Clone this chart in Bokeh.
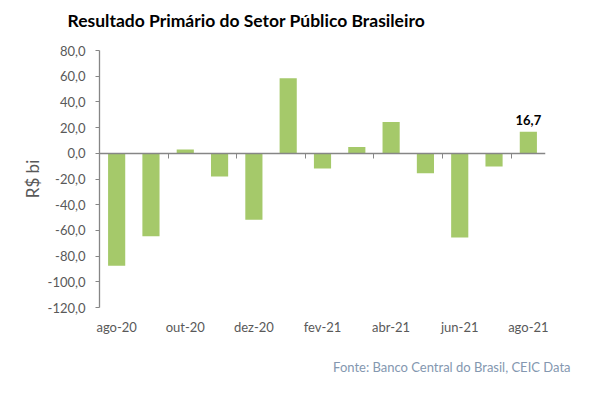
from bokeh.plotting import figure
from bokeh.layouts import column
from bokeh.models import (ColumnDataSource, Range1d, FixedTicker, LinearAxis, Label, Title)
from bokeh.embed import file_html
from bokeh.resources import INLINE

months = ["ago-20", "set-20", "out-20", "nov-20", "dez-20", "jan-21", "fev-21",
          "mar-21", "abr-21", "mai-21", "jun-21", "jul-21", "ago-21"]
values = [-87.6, -64.6, 3.0, -18.1, -51.8, 58.4, -11.8, 4.9, 24.3, -15.5, -65.5, -10.3, 16.7]
y_ticks = [-120, -100, -80, -60, -40, -20, 0, 20, 40, 60, 80]
title_text = "Resultado Primário do Setor Público Brasileiro"
source_text = "Fonte: Banco Central do Brasil, CEIC Data"

FONT = "Lato"
GREY = "#595959"
AXIS = "#868686"
W = 600
HEAD_H, MAIN_H, FOOT_H = 42, 295, 40


def strip(h):
    f = figure(width=W, height=h, output_backend="svg", toolbar_location=None,
               x_range=Range1d(0, 1), y_range=Range1d(0, 1),
               x_axis_type=None, y_axis_type=None, min_border=0)
    f.outline_line_color = None
    f.grid.visible = False
    f.border_fill_color = "white"
    f.background_fill_color = "white"
    return f


# header strip carrying the title
head = strip(HEAD_H)
head.title = Title(text=title_text, align="left", offset=-32, standoff=15,
                   text_font=FONT, text_font_size="17.5px", text_font_style="bold",
                   text_color="black")

# main chart
n = len(months)
xs = [i + 0.5 for i in range(n)]
src = ColumnDataSource(dict(x=xs, top=values, month=months))

p = figure(width=W, height=MAIN_H, output_backend="svg", toolbar_location=None,
           x_range=Range1d(0, n), y_range=Range1d(-120, 80),
           min_border_left=99, min_border_right=55, min_border_top=8, min_border_bottom=30)
p.outline_line_color = None
p.xgrid.visible = False
p.ygrid.visible = False
p.background_fill_color = "white"
p.border_fill_color = "white"

p.vbar(x="x", top="top", bottom=0, width=0.5, source=src,
       fill_color="#A5C96A", line_color=None)

ya = p.yaxis[0]
ya.ticker = FixedTicker(ticks=y_ticks)
ya.major_label_overrides = {t: f"{t:.1f}".replace(".", ",") for t in y_ticks}
ya.axis_line_color = AXIS
ya.axis_line_width = 1.3
ya.major_tick_line_color = AXIS
ya.major_tick_out = 4
ya.major_tick_in = 0
ya.minor_tick_line_color = None
ya.major_label_text_font = FONT
ya.major_label_text_font_size = "13px"
ya.major_label_text_color = GREY
ya.major_label_standoff = 10
ya.axis_label = "R$ bi"
ya.axis_label_text_font = FONT
ya.axis_label_text_font_size = "17px"
ya.axis_label_text_font_style = "normal"
ya.axis_label_text_color = GREY
ya.axis_label_standoff = 2

# x axis drawn at zero: line + ticks between every second month
xa = p.xaxis[0]
xa.fixed_location = 0
xa.ticker = FixedTicker(ticks=list(range(2, n, 2)))
xa.major_label_text_font_size = "0px"
xa.major_label_overrides = {t: "" for t in range(2, n, 2)}
xa.major_label_standoff = 0
xa.axis_line_color = AXIS
xa.axis_line_width = 1.3
xa.major_tick_line_color = AXIS
xa.major_tick_out = 5
xa.major_tick_in = 0
xa.minor_tick_line_color = None

# month labels at the bottom
xb = LinearAxis(ticker=FixedTicker(ticks=[xs[i] for i in range(0, n, 2)]),
                major_label_overrides={xs[i]: months[i] for i in range(0, n, 2)})
xb.axis_line_color = None
xb.major_tick_line_color = None
xb.minor_tick_line_color = None
xb.major_label_text_font = FONT
xb.major_label_text_font_size = "13px"
xb.major_label_text_color = GREY
xb.major_label_standoff = 5
p.add_layout(xb, "below")

last = values[-1]
p.add_layout(Label(x=xs[-1], y=last, text=f"{last:.1f}".replace(".", ","),
                   text_font=FONT, text_font_size="13px", text_font_style="bold",
                   text_color="black", text_align="center", text_baseline="bottom",
                   y_offset=7))

# footer strip carrying the source note
foot = strip(FOOT_H)
foot.add_layout(Title(text=source_text, align="right", offset=-25, standoff=6,
                      text_font=FONT, text_font_size="13px", text_font_style="normal",
                      text_color="#8497B0"), "below")

layout = column(head, p, foot, spacing=0)
open("out.html", "w").write(file_html(layout, INLINE))
